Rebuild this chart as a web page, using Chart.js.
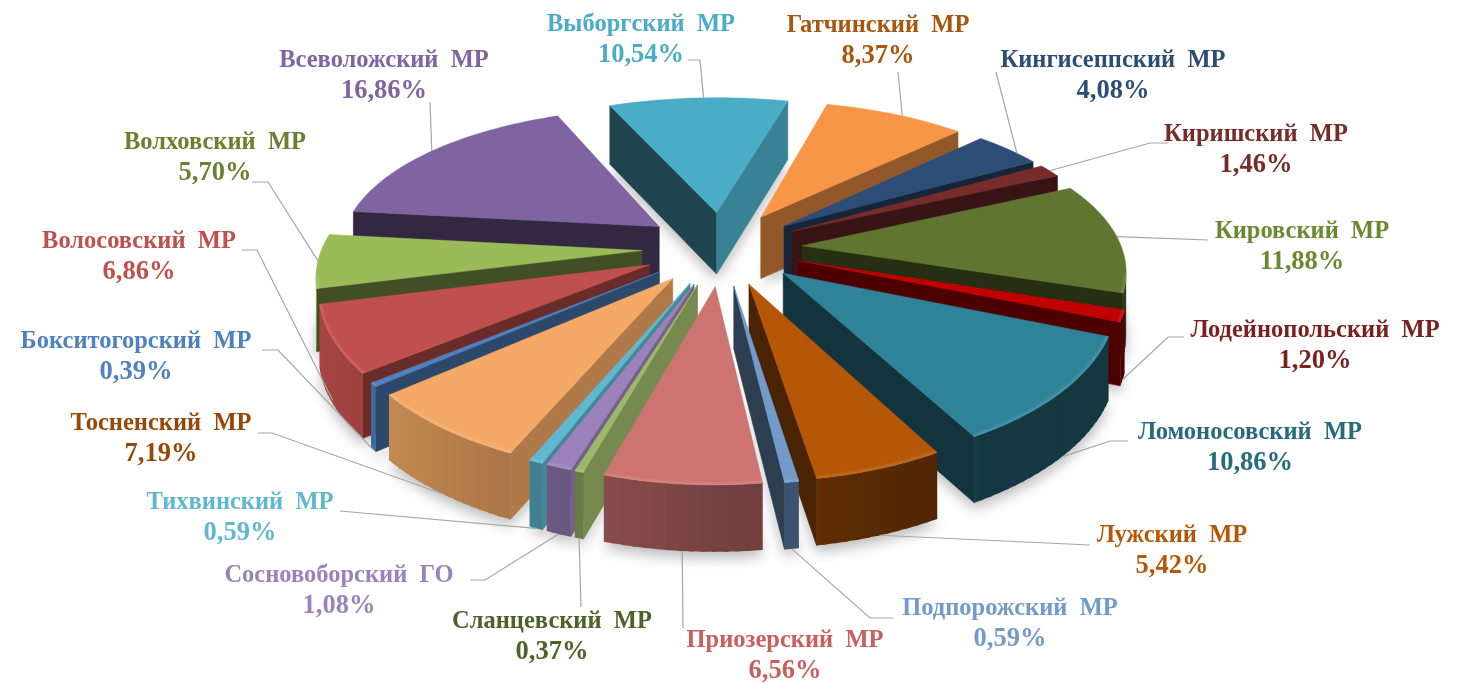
<!DOCTYPE html>
<html lang="ru">
<head>
<meta charset="utf-8">
<title>Доли районов</title>
<script src="https://cdn.jsdelivr.net/npm/chart.js@4.4.0/dist/chart.umd.min.js"></script>
<style>
  html, body { margin: 0; background: #fff; }
  canvas { display: block; filter: blur(0.6px); }
</style>
</head>
<body>
<canvas id="chart-share" width="1466" height="683"></canvas>
<script>
// Данные
const categories = ['Бокситогорский  МР', 'Волосовский  МР', 'Волховский  МР', 'Всеволожский  МР', 'Выборгский  МР', 'Гатчинский  МР', 'Кингисеппский  МР', 'Киришский  МР', 'Кировский  МР', 'Лодейнопольский  МР', 'Ломоносовский  МР', 'Лужский  МР', 'Подпорожский  МР', 'Приозерский  МР', 'Сланцевский  МР', 'Сосновоборский  ГО', 'Тихвинский  МР', 'Тосненский  МР'];
const shares = [0.39, 6.86, 5.70, 16.86, 10.54, 8.37, 4.08, 1.46, 11.88, 1.20, 10.86, 5.42, 0.59, 6.56, 0.37, 1.08, 0.59, 7.19];

// Цвета
const sliceColors = ['#4F81BD', '#C0504D', '#9BBB59', '#8064A2', '#4BACC6', '#F79646', '#2C4D75', '#772C2A', '#5F7530', '#C00000', '#2F8399', '#B65708', '#729ACA', '#CD7371', '#9DB86A', '#9C82BA', '#5FB8D0', '#F4A966'];
const labelColors = ['#4F81BD', '#C0504D', '#6B8030', '#8064A2', '#4BACC6', '#A8560C', '#2C4D75', '#772C2A', '#6B8A30', '#7B1F1F', '#276A7C', '#B65708', '#729ACA', '#C8605E', '#4E6128', '#9C82BA', '#5FB8D0', '#984807'];

// Подписи: центр первой строки и ломаная выноски (конец считается от сектора)
const labelCenters = [[136, 342], [139, 242], [215, 143], [384, 61], [641, 25], [878, 26], [1113, 61], [1256, 135], [1302, 232], [1315, 331], [1250, 433], [1172, 536], [1010, 609], [785, 641], [552, 622], [339, 576], [240, 503], [161, 424]];
const leaderStarts = [[[262, 350], [278, 350]], [[242, 250], [257, 250]], [[252, 182], [268, 182]], [[430, 102]], [[688, 60], [700, 60]], [[898, 72]], [[996, 72]], [[1168, 143], [1150, 143]], [[1208, 240]], [[1184, 337], [1168, 337]], [[1128, 441], [1110, 441]], [[1090, 545]], [[893, 618], [870, 618]], [[683, 628]], [[581, 607]], [[470, 580], [485, 580]], [[340, 511]], [[258, 433], [272, 433]]];
const leaderDepth = [1, 0.95, 0, 0, 0, 0, 0, 0, 0, 1, 1, 1, 1, 1, 1, 1, 1, 1];
const leaderFrac = [0.5, 0.5, 0.5, 0.5, 0.53, 0.55, 0.67, 0.5, 0.5, 0.5, 0.5, 0.5, 0.5, 0.5, 0.5, 0.5, 0.5, 0.5];

// Проекция круга в псевдо-3D
const centerX = 722, centerY = 248, tilt = 0.46, persp = 0.00056, wallHeight = 62;

const project = (X, Y, z) => {
  const f = 1 / (1 - Y * persp);
  return { x: centerX + X * Math.pow(f, 0.8), y: centerY + tilt * Y * f + z * wallHeight * Math.pow(f, 0.3) };
};

const slicePoint = (el, angle, r, z) => {
  const mid = (el.startAngle + el.endAngle) / 2;
  const off = el.options.offset;
  return project(Math.cos(mid) * off + Math.cos(angle) * r, Math.sin(mid) * off + Math.sin(angle) * r, z);
};

const shade = (hex, b) => {
  const n = parseInt(hex.slice(1), 16);
  const mix = c => Math.round(b <= 1 ? c * b : c + (255 - c) * (b - 1));
  return `rgb(${mix(n >> 16)},${mix((n >> 8) & 255)},${mix(n & 255)})`;
};

const poly = (ctx, pts) => {
  ctx.beginPath();
  pts.forEach((p, i) => (i ? ctx.lineTo(p.x, p.y) : ctx.moveTo(p.x, p.y)));
  ctx.closePath();
};

const arcAngles = (el) => {
  const steps = Math.max(2, Math.ceil((el.endAngle - el.startAngle) / 0.03));
  const list = [];
  for (let i = 0; i <= steps; i++) list.push(el.startAngle + (el.endAngle - el.startAngle) * i / steps);
  return list;
};

const topOutline = (el, z) => [
  slicePoint(el, el.startAngle, 0, z),
  ...arcAngles(el).map(a => slicePoint(el, a, el.outerRadius, z))
];

// Стенка видна, если ребро идёт справа налево
const drawWall = (ctx, a, b, color, outline) => {
  const pa = a(0), pb = b(0);
  if (pb.x >= pa.x) return;
  poly(ctx, [pa, pb, b(1), a(1)]);
  ctx.fillStyle = color;
  ctx.fill();
  if (outline) {
    ctx.strokeStyle = color;
    ctx.lineWidth = 0.7;
    ctx.stroke();
  }
};

const radialBrightness = (nx) => 0.4 + 0.38 * Math.max(0, nx) * Math.max(0, nx);

const drawSlice = (ctx, el, color) => {
  const s = el.startAngle, e = el.endAngle, R = el.outerRadius;
  drawWall(ctx, z => slicePoint(el, s, 0, z), z => slicePoint(el, s, R, z), shade(color, radialBrightness(Math.sin(s))), true);
  drawWall(ctx, z => slicePoint(el, e, R, z), z => slicePoint(el, e, 0, z), shade(color, radialBrightness(-Math.sin(e))), true);

  // внешняя стенка: куски внахлёст, иначе видны швы
  const angles = arcAngles(el);
  for (let i = angles.length - 2; i >= 0; i--) {
    const a1 = angles[i], a2 = Math.min(angles[i + 1] + 0.012, e);
    const nx = Math.cos((angles[i] + angles[i + 1]) / 2);
    drawWall(ctx, z => slicePoint(el, a1, R, z), z => slicePoint(el, a2, R, z), shade(color, Math.max(0.42, 0.58 - 0.3 * nx)), false);
  }

  const outline = topOutline(el, 0);
  poly(ctx, outline);
  ctx.fillStyle = color;
  ctx.strokeStyle = color;
  ctx.lineWidth = 0.5;
  ctx.fill();
  ctx.stroke();

  // светлая кромка по передней дуге
  ctx.save();
  poly(ctx, outline);
  ctx.clip();
  ctx.filter = 'blur(1px)';
  ctx.lineWidth = 5;
  ctx.lineCap = 'round';
  ctx.strokeStyle = shade(color, 1.12);
  ctx.beginPath();
  let open = false;
  for (let i = 0; i < angles.length - 1; i++) {
    const p1 = slicePoint(el, angles[i], R, 0), p2 = slicePoint(el, angles[i + 1], R, 0);
    if (p2.x >= p1.x) { open = false; continue; }
    if (!open) ctx.moveTo(p1.x, p1.y);
    ctx.lineTo(p2.x, p2.y);
    open = true;
  }
  ctx.stroke();
  ctx.restore();
};

const drawShadow = (ctx, el) => {
  ctx.save();
  ctx.shadowColor = 'rgba(0,0,0,0.28)';
  ctx.shadowBlur = 14;
  ctx.shadowOffsetX = 3000;
  ctx.shadowOffsetY = 6;
  ctx.translate(-3000, 0);
  poly(ctx, topOutline(el, 1));
  ctx.fillStyle = '#000';
  ctx.fill();
  ctx.restore();
};

const pie3d = {
  id: 'pie3d',
  beforeDatasetsDraw(chart) {
    const ctx = chart.ctx;
    const arcs = chart.getDatasetMeta(0).data;
    const depthOf = (el) => slicePoint(el, (el.startAngle + el.endAngle) / 2, el.outerRadius * 0.55, 0).y;
    const order = arcs.map((el, i) => i).sort((a, b) => depthOf(arcs[a]) - depthOf(arcs[b]));

    order.forEach(i => drawShadow(ctx, arcs[i]));
    order.forEach(i => drawSlice(ctx, arcs[i], sliceColors[i]));

    // выноски
    ctx.save();
    ctx.strokeStyle = '#A6A6A6';
    ctx.lineWidth = 1.2;
    arcs.forEach((el, i) => {
      const angle = el.startAngle + (el.endAngle - el.startAngle) * leaderFrac[i];
      const end = slicePoint(el, angle, el.outerRadius, leaderDepth[i]);
      ctx.beginPath();
      leaderStarts[i].forEach((p, j) => (j ? ctx.lineTo(p[0], p[1]) : ctx.moveTo(p[0], p[1])));
      ctx.lineTo(end.x, end.y);
      ctx.stroke();
    });

    // подписи
    ctx.textAlign = 'center';
    ctx.textBaseline = 'middle';
    categories.forEach((name, i) => {
      const [x, y] = labelCenters[i];
      ctx.fillStyle = labelColors[i];
      ctx.font = 'bold 24.5px "Liberation Serif"';
      ctx.fillText(name, x, y);
      ctx.font = 'bold 26.5px "Liberation Serif"';
      ctx.fillText(shares[i].toFixed(2).replace('.', ',') + '%', x, y + 30.5);
    });
    ctx.restore();
    return false;
  }
};

new Chart(document.getElementById('chart-share'), {
  type: 'pie',
  data: {
    labels: categories,
    datasets: [{ data: shares, backgroundColor: sliceColors, borderWidth: 0, offset: 80 }]
  },
  options: {
    responsive: false,
    animation: false,
    rotation: -130.3,
    radius: 320,
    events: [],
    plugins: { legend: { display: false }, tooltip: { enabled: false } }
  },
  plugins: [pie3d]
});
</script>
</body>
</html>
